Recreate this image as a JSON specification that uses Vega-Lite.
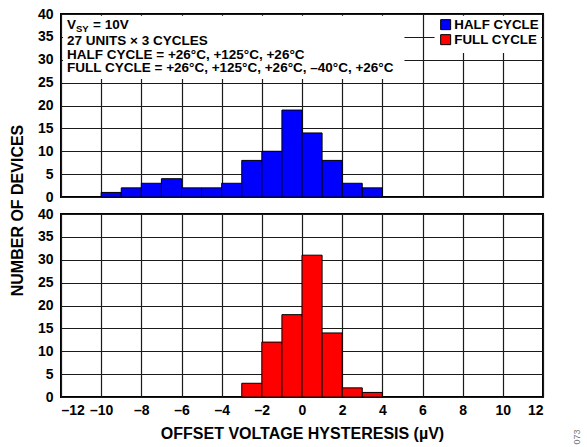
{
  "$schema": "https://vega.github.io/schema/vega-lite/v6.json",
  "padding": {"left": 8, "top": 6, "right": 5, "bottom": 2},
  "bounds": "flush",
  "spacing": 17,
  "config": {
    "font": "Liberation Sans",
    "view": {"stroke": "black", "strokeWidth": 2},
    "axis": {
      "labelFont": "Liberation Sans", "labelFontWeight": "bold", "labelFontSize": 14, "labelColor": "black",
      "titleFont": "Liberation Sans", "titleFontWeight": "bold", "titleFontSize": 16, "titleColor": "black",
      "grid": true, "gridColor": "#1a1a1a", "gridWidth": 1.2, "gridOpacity": 1, "ticks": false, "domain": false,
      "labelOverlap": false
    }
  },
  "data": {"values": [
    {"series": "HALF CYCLE", "lo": -10, "hi": -9, "count": 1},
    {"series": "HALF CYCLE", "lo": -9, "hi": -8, "count": 2},
    {"series": "HALF CYCLE", "lo": -8, "hi": -7, "count": 3},
    {"series": "HALF CYCLE", "lo": -7, "hi": -6, "count": 4},
    {"series": "HALF CYCLE", "lo": -6, "hi": -5, "count": 2},
    {"series": "HALF CYCLE", "lo": -5, "hi": -4, "count": 2},
    {"series": "HALF CYCLE", "lo": -4, "hi": -3, "count": 3},
    {"series": "HALF CYCLE", "lo": -3, "hi": -2, "count": 8},
    {"series": "HALF CYCLE", "lo": -2, "hi": -1, "count": 10},
    {"series": "HALF CYCLE", "lo": -1, "hi": 0, "count": 19},
    {"series": "HALF CYCLE", "lo": 0, "hi": 1, "count": 14},
    {"series": "HALF CYCLE", "lo": 1, "hi": 2, "count": 8},
    {"series": "HALF CYCLE", "lo": 2, "hi": 3, "count": 3},
    {"series": "HALF CYCLE", "lo": 3, "hi": 4, "count": 2},
    {"series": "FULL CYCLE", "lo": -3, "hi": -2, "count": 3},
    {"series": "FULL CYCLE", "lo": -2, "hi": -1, "count": 12},
    {"series": "FULL CYCLE", "lo": -1, "hi": 0, "count": 18},
    {"series": "FULL CYCLE", "lo": 0, "hi": 1, "count": 31},
    {"series": "FULL CYCLE", "lo": 1, "hi": 2, "count": 14},
    {"series": "FULL CYCLE", "lo": 2, "hi": 3, "count": 2},
    {"series": "FULL CYCLE", "lo": 3, "hi": 4, "count": 1}
  ]},
  "resolve": {"scale": {"color": "independent"}, "legend": {"color": "independent"}},
  "vconcat": [
    {
      "width": 482,
      "height": 183,
      "layer": [
        {
          "transform": [{"filter": "datum.series === 'HALF CYCLE'"}],
          "mark": {"type": "rect", "stroke": "black", "strokeWidth": 1},
          "encoding": {
            "x": {"field": "lo", "type": "quantitative", "scale": {"domain": [-12, 12], "nice": false},
                  "axis": {"values": [-12, -10, -8, -6, -4, -2, 0, 2, 4, 6, 8, 10, 12], "labels": false, "title": null, "grid": true}},
            "x2": {"field": "hi"},
            "y": {"field": "count", "type": "quantitative", "scale": {"domain": [0, 40], "nice": false},
                  "axis": {"values": [0, 5, 10, 15, 20, 25, 30, 35, 40], "labelPadding": 8, "grid": true, "labelOverlap": false,
                           "title": "NUMBER OF DEVICES", "titleX": -44, "titleY": 196, "titleAngle": 270,
                           "titleAlign": "center", "titleBaseline": "middle"}},
            "y2": {"datum": 0},
            "color": {"field": "series", "type": "nominal",
                      "scale": {"domain": ["HALF CYCLE", "FULL CYCLE"], "range": ["#0000ff", "#ff0000"]},
                      "legend": {"orient": "top-right", "title": null, "offset": 4, "padding": 0,
                                 "symbolType": "square", "symbolSize": 100, "symbolStrokeColor": "black",
                                 "symbolStrokeWidth": 1, "symbolOpacity": 1,
                                 "labelFont": "Liberation Sans", "labelFontWeight": "bold", "labelFontSize": 13.3,
                                 "labelColor": "black", "labelOffset": 2, "rowPadding": 0}}
          }
        },
        {
          "data": {"values": [{}]},
          "mark": {"type": "rect", "color": "white"},
          "encoding": {
            "x": {"datum": -11.9, "type": "quantitative",
                  "axis": {"values": [-12, -10, -8, -6, -4, -2, 0, 2, 4, 6, 8, 10, 12], "labels": false, "title": null, "grid": true}},
            "x2": {"datum": 5.1},
            "y": {"datum": 39.6, "type": "quantitative",
                  "axis": {"values": [0, 5, 10, 15, 20, 25, 30, 35, 40], "labelPadding": 8, "grid": true, "labelOverlap": false,
                           "title": "NUMBER OF DEVICES", "titleX": -44, "titleY": 196, "titleAngle": 270,
                           "titleAlign": "center", "titleBaseline": "middle"}},
            "y2": {"datum": 25.8}
          }
        },
        {
          "data": {"values": [{}]},
          "mark": {"type": "rect", "color": "white"},
          "encoding": {
            "x": {"datum": 6.6, "type": "quantitative",
                  "axis": {"values": [-12, -10, -8, -6, -4, -2, 0, 2, 4, 6, 8, 10, 12], "labels": false, "title": null, "grid": true}},
            "x2": {"datum": 11.9},
            "y": {"datum": 39.6, "type": "quantitative",
                  "axis": {"values": [0, 5, 10, 15, 20, 25, 30, 35, 40], "labelPadding": 8, "grid": true, "labelOverlap": false,
                           "title": "NUMBER OF DEVICES", "titleX": -44, "titleY": 196, "titleAngle": 270,
                           "titleAlign": "center", "titleBaseline": "middle"}},
            "y2": {"datum": 31.5}
          }
        },
        {
          "data": {"values": [{}]},
          "mark": {"type": "text", "text": "V", "font": "Liberation Sans", "fontWeight": "bold", "fontSize": 13.5,
                   "align": "left", "baseline": "alphabetic", "dx": 6, "dy": 15, "color": "black"},
          "encoding": {
            "x": {"datum": -12, "type": "quantitative",
                  "axis": {"values": [-12, -10, -8, -6, -4, -2, 0, 2, 4, 6, 8, 10, 12], "labels": false, "title": null, "grid": true}},
            "y": {"datum": 40, "type": "quantitative",
                  "axis": {"values": [0, 5, 10, 15, 20, 25, 30, 35, 40], "labelPadding": 8, "grid": true, "labelOverlap": false,
                           "title": "NUMBER OF DEVICES", "titleX": -44, "titleY": 196, "titleAngle": 270,
                           "titleAlign": "center", "titleBaseline": "middle"}}
          }
        },
        {
          "data": {"values": [{}]},
          "mark": {"type": "text", "text": "SY", "font": "Liberation Sans", "fontWeight": "bold", "fontSize": 9.5,
                   "align": "left", "baseline": "alphabetic", "dx": 15, "dy": 18, "color": "black"},
          "encoding": {
            "x": {"datum": -12, "type": "quantitative",
                  "axis": {"values": [-12, -10, -8, -6, -4, -2, 0, 2, 4, 6, 8, 10, 12], "labels": false, "title": null, "grid": true}},
            "y": {"datum": 40, "type": "quantitative",
                  "axis": {"values": [0, 5, 10, 15, 20, 25, 30, 35, 40], "labelPadding": 8, "grid": true, "labelOverlap": false,
                           "title": "NUMBER OF DEVICES", "titleX": -44, "titleY": 196, "titleAngle": 270,
                           "titleAlign": "center", "titleBaseline": "middle"}}
          }
        },
        {
          "data": {"values": [{}]},
          "mark": {"type": "text", "text": "= 10V", "font": "Liberation Sans", "fontWeight": "bold", "fontSize": 13.5,
                   "align": "left", "baseline": "alphabetic", "dx": 32, "dy": 15, "color": "black"},
          "encoding": {
            "x": {"datum": -12, "type": "quantitative",
                  "axis": {"values": [-12, -10, -8, -6, -4, -2, 0, 2, 4, 6, 8, 10, 12], "labels": false, "title": null, "grid": true}},
            "y": {"datum": 40, "type": "quantitative",
                  "axis": {"values": [0, 5, 10, 15, 20, 25, 30, 35, 40], "labelPadding": 8, "grid": true, "labelOverlap": false,
                           "title": "NUMBER OF DEVICES", "titleX": -44, "titleY": 196, "titleAngle": 270,
                           "titleAlign": "center", "titleBaseline": "middle"}}
          }
        },
        {
          "data": {"values": [{}]},
          "mark": {"type": "text",
                   "text": ["27 UNITS × 3 CYCLES", "HALF CYCLE = +26°C, +125°C, +26°C", "FULL CYCLE = +26°C, +125°C, +26°C, –40°C, +26°C"],
                   "font": "Liberation Sans", "fontWeight": "bold", "fontSize": 13.5, "lineHeight": 13.5,
                   "align": "left", "baseline": "alphabetic", "dx": 6, "dy": 31, "color": "black"},
          "encoding": {
            "x": {"datum": -12, "type": "quantitative",
                  "axis": {"values": [-12, -10, -8, -6, -4, -2, 0, 2, 4, 6, 8, 10, 12], "labels": false, "title": null, "grid": true}},
            "y": {"datum": 40, "type": "quantitative",
                  "axis": {"values": [0, 5, 10, 15, 20, 25, 30, 35, 40], "labelPadding": 8, "grid": true, "labelOverlap": false,
                           "title": "NUMBER OF DEVICES", "titleX": -44, "titleY": 196, "titleAngle": 270,
                           "titleAlign": "center", "titleBaseline": "middle"}}
          }
        }
      ]
    },
    {
      "width": 482,
      "height": 183,
      "layer": [
        {
          "transform": [{"filter": "datum.series === 'FULL CYCLE'"}],
          "mark": {"type": "rect", "stroke": "black", "strokeWidth": 1, "color": "#ff0000"},
          "encoding": {
            "x": {"field": "lo", "type": "quantitative", "scale": {"domain": [-12, 12], "nice": false},
                  "axis": {"values": [-12, -10, -8, -6, -4, -2, 0, 2, 4, 6, 8, 10, 12], "labelPadding": 6, "grid": true,
                           "labelExpr": "datum.value < 0 ? '–' + abs(datum.value) : datum.label",
                           "title": "OFFSET VOLTAGE HYSTERESIS (µV)", "titlePadding": 8}},
            "x2": {"field": "hi"},
            "y": {"field": "count", "type": "quantitative", "scale": {"domain": [0, 40], "nice": false},
                  "axis": {"values": [0, 5, 10, 15, 20, 25, 30, 35, 40], "labelPadding": 8, "grid": true, "labelOverlap": false, "title": null}},
            "y2": {"datum": 0}
          }
        },
        {
          "data": {"values": [{}]},
          "mark": {"type": "text", "text": "073", "font": "Liberation Sans", "fontSize": 9, "angle": 270,
                   "align": "center", "baseline": "middle", "dx": -40, "dy": 34, "color": "#777777"},
          "encoding": {
            "x": {"datum": 12, "type": "quantitative",
                  "axis": {"values": [-12, -10, -8, -6, -4, -2, 0, 2, 4, 6, 8, 10, 12], "labelPadding": 6, "grid": true,
                           "labelExpr": "datum.value < 0 ? '–' + abs(datum.value) : datum.label",
                           "title": "OFFSET VOLTAGE HYSTERESIS (µV)", "titlePadding": 8}},
            "y": {"datum": 0, "type": "quantitative",
                  "axis": {"values": [0, 5, 10, 15, 20, 25, 30, 35, 40], "labelPadding": 8, "grid": true, "labelOverlap": false, "title": null}}
          }
        }
      ]
    }
  ]
}
